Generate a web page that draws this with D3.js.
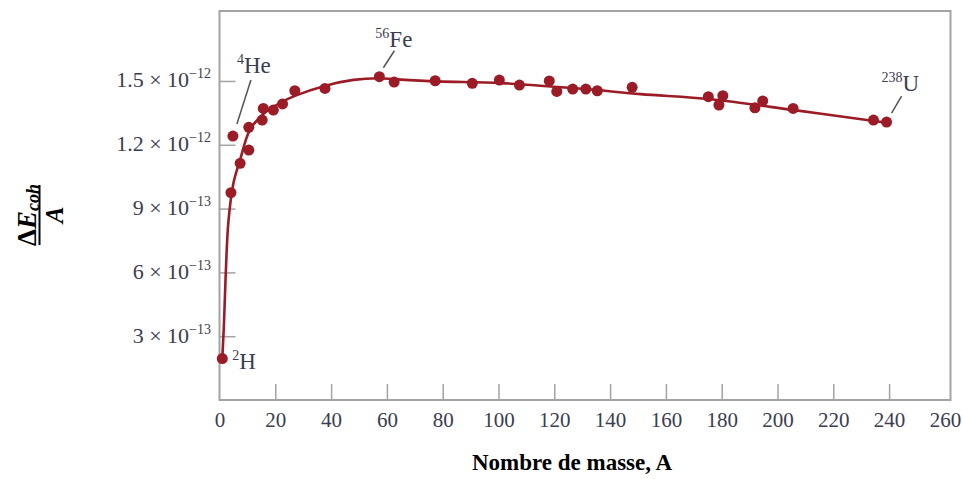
<!DOCTYPE html>
<html>
<head>
<meta charset="utf-8">
<script src="https://cdn.jsdelivr.net/npm/d3@7"></script>
<style>
  body { margin: 0; background: #fff; }
  svg { display: block; }
  text { font-family: "Liberation Serif", "DejaVu Serif", serif; }
</style>
</head>
<body>
<div id="chart"></div>
<script>
// mass number A of each nucleus
var massNumber = [1, 4.1, 4.8, 7.4, 10.5, 10.5, 15.3, 15.7, 19.3, 22.6, 27.0, 37.8,
    57.3, 62.6, 77.3, 90.6, 100.3, 107.5, 118.2, 120.9, 126.6, 131.3, 135.4, 147.9,
    175.2, 179.0, 180.4, 191.9, 194.7, 205.6, 234.4, 239.1];
// binding energy per nucleon (J)
var energyPerA = [0.195e-12, 0.975e-12, 1.241e-12, 1.113e-12, 1.175e-12, 1.282e-12,
    1.316e-12, 1.371e-12, 1.363e-12, 1.392e-12, 1.454e-12, 1.465e-12,
    1.520e-12, 1.495e-12, 1.501e-12, 1.489e-12, 1.504e-12, 1.481e-12, 1.500e-12,
    1.451e-12, 1.462e-12, 1.462e-12, 1.454e-12, 1.470e-12,
    1.426e-12, 1.387e-12, 1.431e-12, 1.374e-12, 1.406e-12, 1.371e-12, 1.316e-12, 1.307e-12];

// smooth trend curve
var curveA = [1, 1.6, 2.2, 3.2, 5, 7.4, 10.9, 15.7, 22.2, 27, 38, 48, 57, 63, 78, 101,
    131, 151, 176, 206, 234, 240];
var curveE = [0.195e-12, 0.36e-12, 0.58e-12, 0.84e-12, 1.02e-12, 1.13e-12, 1.27e-12,
    1.345e-12, 1.40e-12, 1.43e-12, 1.478e-12, 1.505e-12, 1.513e-12, 1.508e-12,
    1.498e-12, 1.49e-12, 1.462e-12, 1.438e-12, 1.414e-12, 1.363e-12, 1.313e-12, 1.303e-12];

var xTicks = d3.range(0, 261, 20);
var yTicks = [3e-13, 6e-13, 9e-13, 1.2e-12, 1.5e-12];

// labelled nuclei
var labelMass = ["2", "4", "56", "238"];
var labelSym = ["H", "He", "Fe", "U"];
var labelIndex = [0, 2, 12, 31];

var margin = {top: 11, right: 11.5, bottom: 79, left: 219.5},
    width = 962 - margin.left - margin.right,
    height = 479 - margin.top - margin.bottom;

// the 260 end of the scale sits a few pixels inside the frame
var x = d3.scaleLinear().domain([0, 260]).range([0, width - 5.6]);
var y = d3.scaleLinear().domain([0, 1.829e-12]).range([height, 0]);

var svg = d3.select("#chart")
    .append("svg")
    .attr("width", 962)
    .attr("height", 479);

var g = svg.append("g")
    .attr("transform", "translate(" + margin.left + "," + margin.top + ")");

var frameColor = "#a3a3a3",
    textColor = "#3b3d52",
    red = "#9b1c26";

// frame
g.append("rect")
    .attr("width", width)
    .attr("height", height)
    .attr("fill", "none")
    .attr("stroke", frameColor)
    .attr("stroke-width", 2);

// x axis, ticks pointing inward
var xAxis = g.append("g")
    .attr("transform", "translate(0," + height + ")")
    .call(d3.axisBottom(x).tickValues(xTicks).tickSizeInner(-16).tickSizeOuter(0).tickPadding(0));
xAxis.select(".domain").remove();
xAxis.selectAll(".tick line")
    .attr("stroke", frameColor)
    .attr("stroke-width", 1.5)
    .attr("opacity", function(d) { return d == 0 || d == 260 ? 0 : 1; });
xAxis.selectAll(".tick text").remove();
xAxis.selectAll(".tick").append("text")
    .attr("y", 27)
    .attr("text-anchor", "middle")
    .attr("fill", textColor)
    .style("font-size", "21px")
    .text(function(d) { return d; });

// y axis, ticks pointing inward, labels as m x 10^e
var yAxis = g.append("g")
    .call(d3.axisLeft(y).tickValues(yTicks).tickSizeInner(-16).tickSizeOuter(0));
yAxis.select(".domain").remove();
yAxis.selectAll(".tick line")
    .attr("stroke", frameColor)
    .attr("stroke-width", 1.5);
yAxis.selectAll(".tick text").remove();
var yLab = yAxis.selectAll(".tick").append("text")
    .attr("x", -8.5)
    .attr("y", 6)
    .attr("text-anchor", "end")
    .attr("fill", textColor)
    .style("font-size", "22px");
yLab.append("tspan")
    .text(function(d) {
        var e = Math.floor(Math.log10(d) + 1e-9);
        var m = +(d / Math.pow(10, e)).toFixed(2);
        return m + " \u00d7 10";
    });
yLab.append("tspan")
    .attr("dy", -9)
    .style("font-size", "14px")
    .text(function(d) {
        var e = Math.floor(Math.log10(d) + 1e-9);
        return "\u2212" + Math.abs(e);
    });

// trend curve
var line = d3.line()
    .x(function(d, i) { return x(curveA[i]); })
    .y(function(d, i) { return y(curveE[i]); })
    .curve(d3.curveCatmullRom.alpha(0.5));

g.append("path")
    .datum(curveA)
    .attr("d", line)
    .attr("fill", "none")
    .attr("stroke", red)
    .attr("stroke-width", 2.6);

// data points
g.selectAll(".pt")
    .data(massNumber)
    .enter().append("circle")
    .attr("class", "pt")
    .attr("cx", function(d) { return x(d); })
    .attr("cy", function(d, i) { return y(energyPerA[i]); })
    .attr("r", 5.5)
    .attr("fill", red);

// nucleus labels with leader lines (offsets from their point)
var labOffset = [[10, 10, 0, 0, 0, 0], [4, -63, 4, -12, 18, -56],
    [-4, -30, 4, -9, 15, -26], [-5, -31, 5, -9, 15, -26]];

labelIndex.forEach(function(idx, k) {
    var px = x(massNumber[idx]), py = y(energyPerA[idx]), o = labOffset[k];
    if (k > 0) {
        g.append("line")
            .attr("x1", px + o[2]).attr("y1", py + o[3])
            .attr("x2", px + o[4]).attr("y2", py + o[5])
            .attr("stroke", "#555")
            .attr("stroke-width", 1.5);
    }
    var t = g.append("text")
        .attr("x", px + o[0])
        .attr("y", py + o[1])
        .attr("fill", textColor)
        .style("font-size", "23px");
    t.append("tspan")
        .attr("dy", -9)
        .style("font-size", "14px")
        .text(labelMass[k]);
    t.append("tspan")
        .attr("dy", 9)
        .text(labelSym[k]);
});

// axis titles
svg.append("text")
    .attr("x", 572)
    .attr("y", 470)
    .attr("text-anchor", "middle")
    .style("font-size", "23px")
    .style("font-weight", "bold")
    .text("Nombre de masse, A");

var yt = svg.append("g")
    .attr("transform", "translate(39.5,215) rotate(-90)");
yt.append("line")
    .attr("x1", -30).attr("x2", 30)
    .attr("stroke", "#000")
    .attr("stroke-width", 2);
var num = yt.append("text")
    .attr("y", -4)
    .attr("text-anchor", "middle")
    .style("font-size", "27px")
    .style("font-weight", "bold");
num.append("tspan").text("\u0394");
num.append("tspan").style("font-style", "italic").text("E");
num.append("tspan")
    .attr("dy", 3)
    .style("font-style", "italic")
    .style("font-size", "18px")
    .text("coh");
yt.append("text")
    .attr("y", 23)
    .attr("text-anchor", "middle")
    .style("font-size", "25px")
    .style("font-weight", "bold")
    .style("font-style", "italic")
    .text("A");
</script>
</body>
</html>
